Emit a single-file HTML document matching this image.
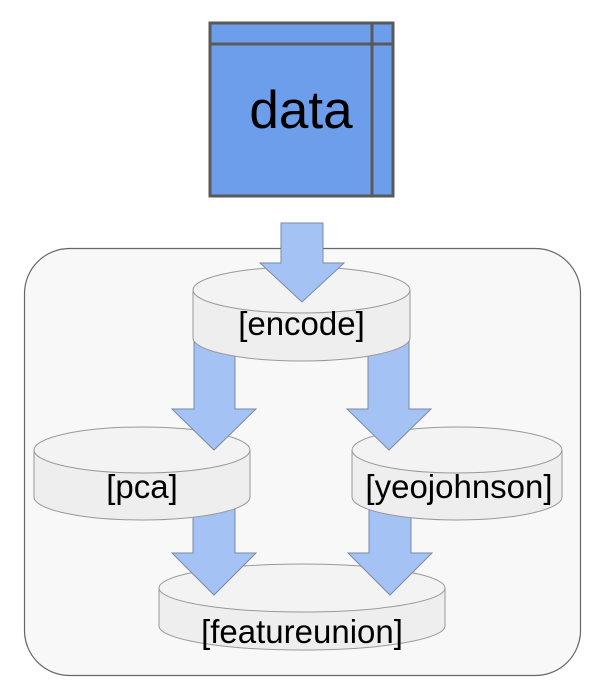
<!DOCTYPE html>
<html><head><meta charset="utf-8"><style>
html,body{margin:0;padding:0;background:#fff;}
svg{display:block;}
text{font-family:"Liberation Sans",Arial,sans-serif;fill:#000;}
</style></head><body>
<svg width="599" height="695" viewBox="0 0 599 695" xmlns="http://www.w3.org/2000/svg">
<rect x="24.5" y="248.5" width="556" height="427" rx="45" fill="#f8f8f8" stroke="#666" stroke-width="1.2"/>
<!-- data -->
<rect x="210" y="23" width="183" height="173" fill="#6d9eeb" stroke="#595959" stroke-width="3"/>
<line x1="210" y1="44" x2="393" y2="44" stroke="#595959" stroke-width="3"/>
<line x1="372" y1="23" x2="372" y2="196" stroke="#595959" stroke-width="3"/>
<text x="301" y="128" font-size="53" text-anchor="middle">data</text>

<!-- featureunion -->
<g stroke="#999" stroke-width="1">
<path d="M159,588 L159,626 A143,24 0 0 0 445,626 L445,588" fill="#eeeeee"/>
<ellipse cx="302" cy="588" rx="143" ry="24" fill="#f3f3f3"/>
</g>
<g fill="#a4c2f4" stroke="#7a8aa6" stroke-width="1">
<path d="M193,505 L235,505 L235,553 L256,553 L214,595 L172,553 L193,553 Z"/>
<path d="M369,505 L411,505 L411,553 L432,553 L390,595 L348,553 L369,553 Z"/>
</g>
<!-- pca -->
<g stroke="#999" stroke-width="1">
<path d="M34,450 L34,497 A108,23 0 0 0 250,497 L250,450" fill="#eeeeee"/>
<ellipse cx="142" cy="450" rx="108" ry="23" fill="#f3f3f3"/>
</g>
<!-- yeojohnson -->
<g stroke="#999" stroke-width="1">
<path d="M352,450 L352,497 A105,23 0 0 0 562,497 L562,450" fill="#eeeeee"/>
<ellipse cx="457" cy="450" rx="105" ry="23" fill="#f3f3f3"/>
</g>
<g fill="#a4c2f4" stroke="#7a8aa6" stroke-width="1">
<path d="M194,330 L235,330 L235,409 L256,409 L214,450 L172,409 L194,409 Z"/>
<path d="M368,330 L409,330 L409,409 L431,409 L389,450 L347,409 L368,409 Z"/>
</g>
<!-- encode cylinder -->
<g stroke="#999" stroke-width="1">
<path d="M193,290 L193,338 A108.5,23 0 0 0 410,338 L410,290" fill="#eeeeee"/>
<ellipse cx="301.5" cy="290" rx="108.5" ry="23" fill="#f3f3f3"/>
</g>
<g fill="#a4c2f4" stroke="#7a8aa6" stroke-width="1">
<path d="M281,223 L323,223 L323,263 L344,263 L302,302 L260,263 L281,263 Z"/>
</g>

<text x="301.5" y="335" font-size="33" text-anchor="middle">[encode]</text>
<text x="142" y="498" font-size="33" text-anchor="middle">[pca]</text>
<text x="459" y="498" font-size="33" text-anchor="middle">[yeojohnson]</text>
<text x="302" y="643" font-size="33" text-anchor="middle">[featureunion]</text>
</svg>
</body></html>
